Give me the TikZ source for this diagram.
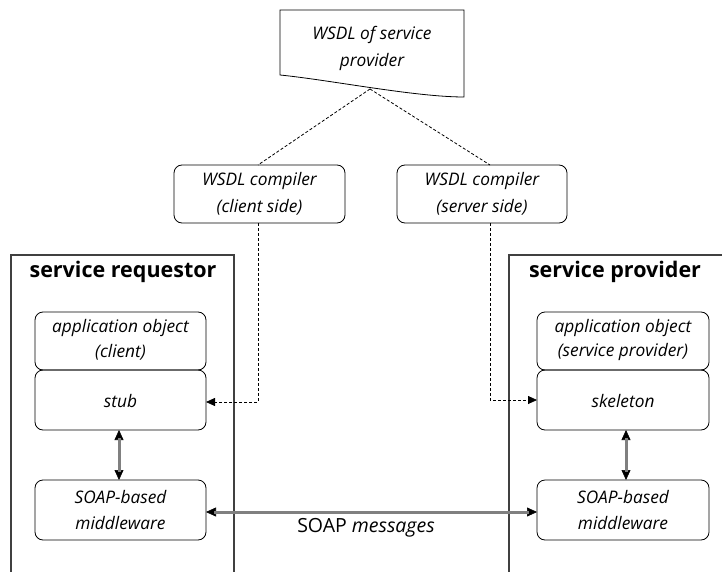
\documentclass[tikz,border=0pt]{standalone}
\usepackage{fontspec}
\setmainfont{Open Sans}
\usetikzlibrary{arrows.meta}
\begin{document}
\begin{tikzpicture}[x=1pt,y=-1pt,
  every node/.style={font=\fontsize{17.3}{20}\selectfont\itshape, align=center, inner sep=0pt},
  rbox/.style={draw=black, line width=0.8pt, rounded corners=8pt},
  container/.style={draw=black!75, line width=1.5pt},
  dashconn/.style={draw=black, line width=0.8pt, densely dashed},
  dtip/.style={-{Triangle[length=9pt,width=8pt]}},
  tipsonly/.style={draw=black, line width=0.6pt, {Triangle[length=10pt,width=9pt]}-{Triangle[length=10pt,width=9pt]}},
  shaft/.style={draw=black!50, line width=3pt, shorten <=8pt, shorten >=8pt},
  ctitle/.style={font=\fontsize{21.5}{25}\selectfont\bfseries}
]
\useasboundingbox (0,0) rectangle (722,572);

% WSDL document
\draw[line width=0.8pt] (280,10) -- (464,10) -- (464,97)
  .. controls (415,97) and (330,80) .. (280,75) -- cycle;
\node at (372,35) {WSDL of service};
\node at (372,62) {provider};
\coordinate (doc) at (370,89);

% compilers
\draw[rbox] (174,165) rectangle (345,223);
\node at (259.5,181) {WSDL compiler};
\node at (259.5,207) {(client side)};
\draw[rbox] (397,165) rectangle (567,223);
\node at (482,181) {WSDL compiler};
\node at (482,207) {(server side)};
\coordinate (cctop) at (258,165);
\coordinate (cstop) at (490,165);
\coordinate (ccbot) at (258,223);
\coordinate (csbot) at (490,223);

% containers
\draw[container] (11,255) -- (234,255) -- (234,575) -- (11,575) -- cycle;
\node[ctitle] at (123,272) {service requestor};
\draw[container] (509,575) -- (509,255) -- (730,255);
\node[ctitle] at (615,272) {service provider};

% requestor side
\draw[rbox] (35,312) rectangle (206,370);
\node at (120.5,328) {application object};
\node at (120.5,352) {(client)};
\draw[rbox] (35,370) rectangle (206,430);
\node (stub) at (120.5,401) {stub};
\coordinate (stubR) at (206,402);
\coordinate (stubB) at (119,430);
\draw[rbox] (35,480) rectangle (206,540);
\node at (120.5,497) {SOAP-based};
\node at (120.5,523) {middleware};
\coordinate (mwlT) at (119,480);
\coordinate (mwlR) at (206,512);

% provider side
\draw[rbox] (537,312) rectangle (709,370);
\node at (623,328) {application object};
\node at (623,352) {(service provider)};
\draw[rbox] (537,370) rectangle (709,430);
\node (skel) at (623,401) {skeleton};
\coordinate (skelL) at (537,400);
\coordinate (skelB) at (626,430);
\draw[rbox] (537,480) rectangle (709,540);
\node at (623,497) {SOAP-based};
\node at (623,523) {middleware};
\coordinate (mwrT) at (626,480);
\coordinate (mwrL) at (537,512);

% connectors
\draw[dashconn] (doc) -- (cctop);
\draw[dashconn] (doc) -- (cstop);
\draw[dashconn, dtip] (ccbot) |- (stubR);
\draw[dashconn, dtip] (csbot) |- (skelL);
\draw[tipsonly] (stubB) -- (mwlT);
\draw[shaft] (stubB) -- (mwlT);
\draw[tipsonly] (skelB) -- (mwrT);
\draw[shaft] (skelB) -- (mwrT);
\draw[tipsonly] (mwlR) -- (mwrL);
\draw[shaft] (mwlR) -- (mwrL);
\node[font=\fontsize{19.5}{22}\selectfont\upshape] (msg) at (366,528) {SOAP \textit{messages}};
\end{tikzpicture}
\end{document}
